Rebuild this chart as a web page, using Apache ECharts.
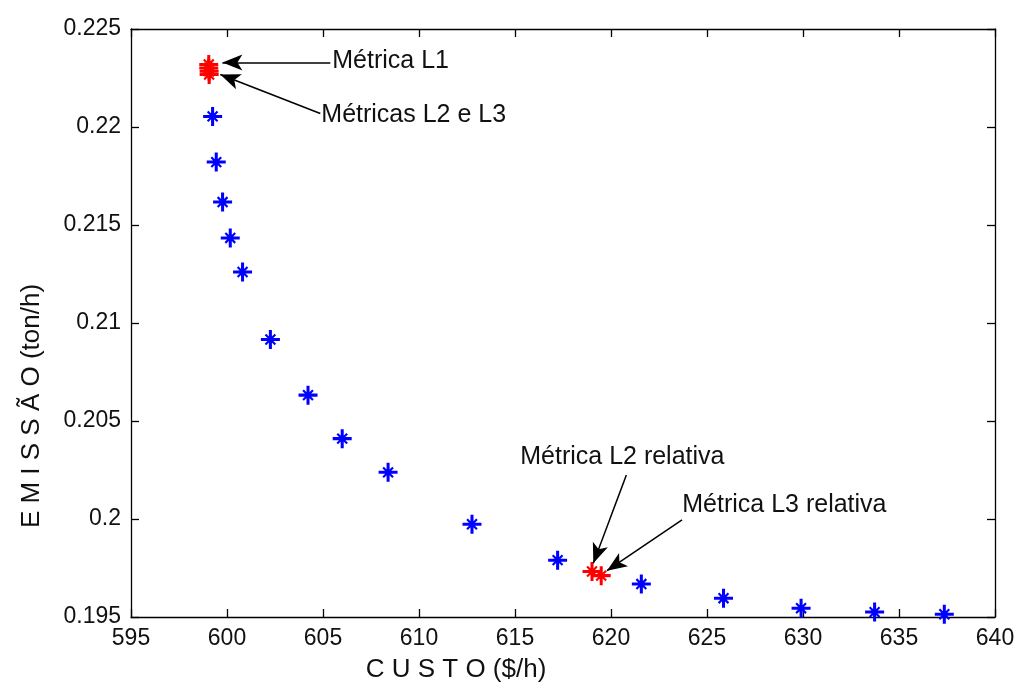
<!DOCTYPE html>
<html>
<head>
<meta charset="utf-8">
<script src="https://cdn.jsdelivr.net/npm/echarts@6/dist/echarts.min.js"></script>
<style>
  html, body { margin: 0; padding: 0; background: #fff; }
  #chartDiv { width: 1019px; height: 687px; }
</style>
</head>
<body>
<div id="chartDiv"></div>
<script>
// 初始化图表
let myChart = echarts.init(document.getElementById('chartDiv'));
window.onresize = myChart.resize;

// 数据: fronteira de Pareto (azul) e soluções escolhidas (vermelho)
const custoFronteira = [599.25, 599.44, 599.77, 600.17, 600.81, 602.26, 604.22, 606.0,
    608.39, 612.76, 617.22, 621.58, 625.86, 629.9, 633.73, 637.36];
const emissaoFronteira = [0.22054, 0.21821, 0.21617, 0.21434, 0.2126, 0.20916, 0.20632, 0.2041,
    0.20238, 0.19973, 0.1979, 0.19668, 0.19596, 0.19545, 0.19525, 0.19514];

const custoMetricas = [599.05, 599.05, 599.07, 599.07, 619.01, 619.49];
const emissaoMetricas = [0.22319, 0.22301, 0.22284, 0.22268, 0.19732, 0.19711];

// anotações (texto + seta)
const anotTextos = ['Métrica L1', 'Métricas L2 e L3', 'Métrica L2 relativa', 'Métrica L3 relativa'];
const anotTextoPos = [[605.43, 0.22334], [604.86, 0.22059], [615.22, 0.20316], [623.66, 0.20071]];
const setaDe = [[605.38, 0.22329], [604.86, 0.22069], [620.80, 0.20224], [623.70, 0.19995]];
const setaPara = [[599.76, 0.22329], [599.65, 0.22268], [619.08, 0.19774], [619.79, 0.19736]];

const xTicks = [595, 640, 5];
const yTicks = [0.195, 0.225, 0.005];

// marcador '*' do MATLAB
const asterisco = 'path://M0 42H100V58H0Z M42 0H58V100H42Z M20 28L28 20L80 72L72 80Z M72 20L80 28L28 80L20 72Z M36 36H64V64H36Z';

const fonte = '"Liberation Sans", Arial, sans-serif';

function zip(a, b) {
    return a.map(function (v, i) { return [v, b[i]]; });
}

function $extend(base, extra) {
    return Object.assign({}, base, extra);
}

let eixoX = {
    type: 'value',
    min: xTicks[0], max: xTicks[1], interval: xTicks[2],
    axisLine: { lineStyle: { color: '#000', width: 1.3 } },
    axisTick: { inside: true, length: 8, lineStyle: { color: '#000', width: 1.3 } },
    splitLine: { show: false },
    axisLabel: { color: '#111', fontSize: 23, fontFamily: fonte, margin: 10 }
};
let eixoY = {
    type: 'value',
    min: yTicks[0], max: yTicks[1], interval: yTicks[2],
    axisLine: { show: true, lineStyle: { color: '#000', width: 1.3 } },
    axisTick: { show: true, inside: true, length: 8, lineStyle: { color: '#000', width: 1.3 } },
    splitLine: { show: false },
    axisLabel: {
        color: '#111', fontSize: 23, fontFamily: fonte, margin: 10,
        formatter: function (v) { return String(+v.toFixed(3)); }
    }
};

let option = {
    backgroundColor: '#fff',
    animation: false,
    grid: { left: 131, right: 24, top: 29, bottom: 70, containLabel: false, outerBoundsMode: 'none' },
    xAxis: [
        $extend(eixoX, {
            position: 'bottom',
            name: 'C U S T O ($/h)',
            nameLocation: 'middle',
            nameGap: 40,
            nameTextStyle: { color: '#111', fontSize: 26, fontFamily: fonte, padding: [0, 214, 0, 0] }
        }),
        $extend(eixoX, { position: 'top', axisLabel: { show: false } })
    ],
    yAxis: [
        $extend(eixoY, {
            position: 'left',
            name: 'E M I S S Ã O (ton/h)',
            nameLocation: 'middle',
            nameGap: 86,
            nameTextStyle: { color: '#111', fontSize: 26, fontFamily: fonte, padding: [0, 166, 0, 0] }
        }),
        $extend(eixoY, { position: 'right', axisLabel: { show: false } })
    ],
    series: [
        {
            type: 'scatter',
            data: zip(custoFronteira, emissaoFronteira),
            symbol: asterisco,
            symbolSize: 19,
            itemStyle: { color: '#0000ff', opacity: 1 }
        },
        {
            type: 'scatter',
            data: zip(custoMetricas, emissaoMetricas),
            symbol: asterisco,
            symbolSize: 19,
            itemStyle: { color: '#ff0000', opacity: 1 },
            markLine: {
                silent: true,
                symbol: ['none', 'arrow'],
                symbolSize: [12, 20],
                label: { show: false },
                lineStyle: { color: '#000', width: 1.5, type: 'solid' },
                data: setaDe.map(function (p, i) {
                    return [{ coord: p }, { coord: setaPara[i] }];
                })
            },
            markPoint: {
                silent: true,
                symbol: 'circle',
                symbolSize: 0,
                label: {
                    show: true,
                    position: 'right',
                    distance: 1,
                    formatter: '{b}',
                    color: '#111',
                    fontSize: 25,
                    fontFamily: fonte
                },
                data: anotTextos.map(function (t, i) {
                    return { name: t, coord: anotTextoPos[i] };
                })
            }
        }
    ]
};

myChart.setOption(option);
</script>
</body>
</html>
